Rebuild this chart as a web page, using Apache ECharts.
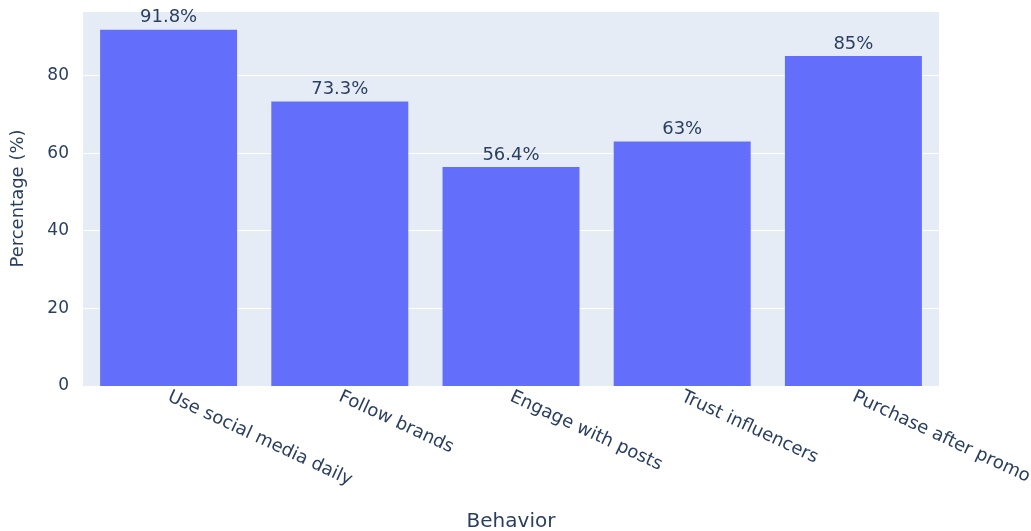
<!DOCTYPE html>
<html>
<head>
<meta charset="utf-8">
<script src="https://cdn.jsdelivr.net/npm/echarts@6/dist/echarts.min.js"></script>
<style>
  html, body { margin: 0; padding: 0; background: #fff; }
  #chart { width: 1031px; height: 531px; }
</style>
</head>
<body>
<div id="chart"></div>
<script>
// Share of consumers showing each social-media behaviour
const behaviors = ['Use social media daily', 'Follow brands', 'Engage with posts', 'Trust influencers', 'Purchase after promo'];
const percentages = [91.8, 73.3, 56.4, 63, 85];
const yTicks = [0, 20, 40, 60, 80];

const textColor = '#2a3f5f';
const font = 'DejaVu Sans';

const chart = echarts.init(document.getElementById('chart'));
chart.setOption({
  animation: false,
  textStyle: { fontFamily: font },
  grid: {
    left: 83, right: 92, top: 11, bottom: 145,
    backgroundColor: '#e5ecf6', show: true, borderWidth: 0,
    outerBoundsMode: 'none', containLabel: false
  },
  xAxis: {
    type: 'category',
    data: behaviors,
    name: 'Behavior',
    nameLocation: 'middle',
    nameGap: 126,
    nameTextStyle: { color: textColor, fontSize: 20, fontFamily: font },
    axisLine: { show: false },
    axisTick: { show: false },
    axisLabel: { rotate: -25, color: textColor, fontSize: 18, margin: 10, interval: 0, fontFamily: font, hideOverlap: false }
  },
  yAxis: {
    type: 'value',
    min: 0,
    max: 96.6,
    interval: 20,
    name: 'Percentage (%)',
    nameLocation: 'middle',
    nameGap: 56,
    nameTextStyle: { color: textColor, fontSize: 18, fontFamily: font },
    axisLine: { show: false },
    axisTick: { show: false },
    axisLabel: {
      color: textColor, fontSize: 17, margin: 14, fontFamily: font,
      formatter: v => (yTicks.includes(v) ? String(v) : '')
    },
    splitLine: { lineStyle: { color: '#ffffff', width: 1 } }
  },
  series: [{
    type: 'bar',
    data: percentages,
    barCategoryGap: '20%',
    itemStyle: { color: '#636efa' },
    label: {
      show: true,
      position: 'top',
      distance: 3,
      color: textColor,
      fontSize: 18,
      fontFamily: font,
      formatter: p => p.value + '%'
    }
  }]
});
</script>
</body>
</html>
